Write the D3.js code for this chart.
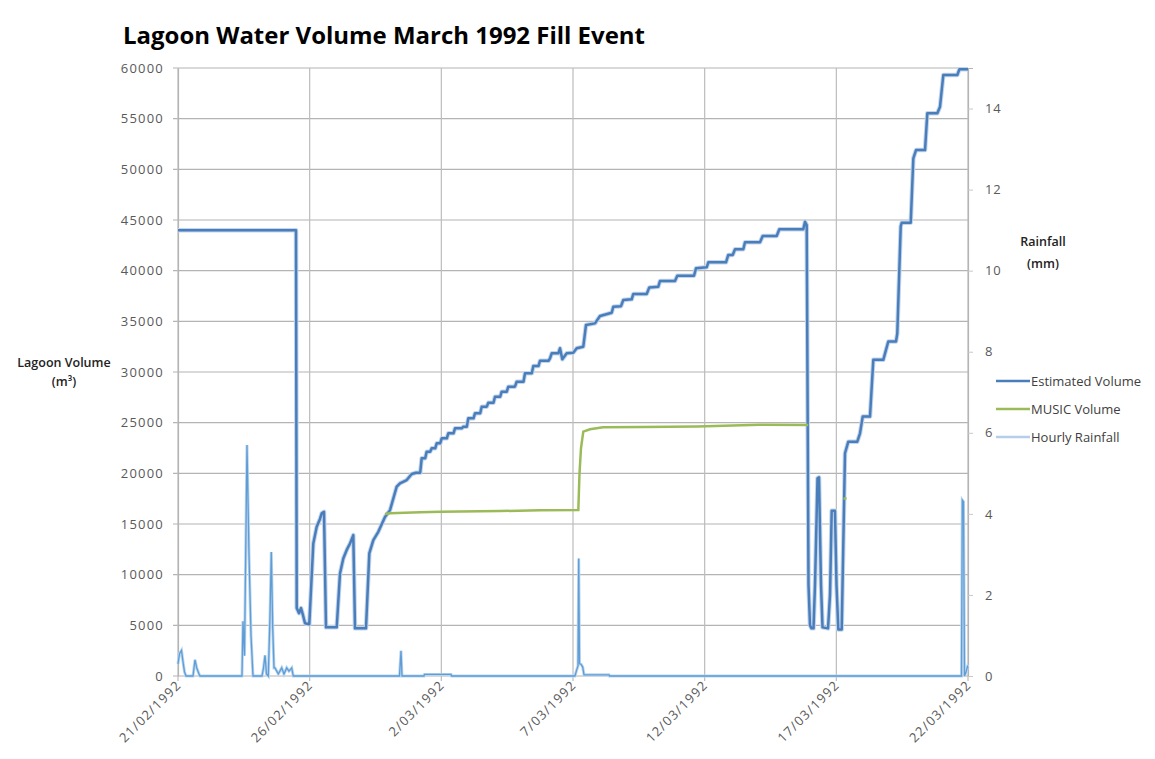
<!DOCTYPE html>
<html>
<head>
<meta charset="utf-8">
<script src="https://cdn.jsdelivr.net/npm/d3@7"></script>
<style>
  body { margin: 0; background: #ffffff; }
  text { font-family: "Open Sans", "Liberation Sans", sans-serif; }
</style>
</head>
<body>
<div id="viz-container"></div>
<script>
// days counted from 21/02/1992 00:00
let estDays = [0, 4.481, 4.508, 4.595, 4.671, 4.747, 4.823, 4.986, 5.138, 5.267, 5.392, 5.457, 5.544, 5.620,
  6.027, 6.152, 6.277, 6.418, 6.532, 6.657, 6.722, 7.139, 7.265, 7.417, 7.606, 7.861, 8.051, 8.305,
  8.430, 8.685, 8.875, 9.038, 9.198, 9.254, 9.387, 9.444, 9.577, 9.634, 9.767, 9.824, 9.957,
  10.014, 10.208, 10.265, 10.462, 10.519, 10.777, 10.834, 10.967, 11.024, 11.222, 11.278, 11.476,
  11.533, 11.727, 11.784, 11.981, 12.038, 12.236, 12.292, 12.486, 12.543, 12.794, 12.862, 13.120,
  13.177, 13.436, 13.493, 13.690, 13.747, 14.070, 14.127, 14.191,
  14.442, 14.506, 14.594, 14.761, 15.011, 15.140, 15.391, 15.494, 15.835, 16.025, 16.470, 16.530,
  16.823, 16.910, 17.229, 17.290, 17.799, 17.898, 18.239, 18.304, 18.873, 18.961, 19.595, 19.671,
  20.077, 20.138, 20.810, 20.897, 21.065, 21.152, 21.467, 21.532, 22.101, 22.204, 22.735, 22.834,
  23.745, 23.810, 23.875, 23.943, 24.000, 24.057, 24.133, 24.190, 24.285, 24.342, 24.418, 24.475,
  24.684, 24.760, 24.824, 24.949, 25.006, 25.075, 25.204, 25.329, 25.454, 25.796, 25.899, 26.001,
  26.278, 26.404, 26.783, 26.886, 26.973, 27.266, 27.315, 27.445, 27.483, 27.825, 27.924, 28.026,
  28.368, 28.455, 28.835, 28.937, 29.063, 29.595, 29.671, 30.0];
let estVolume = [44000, 44000, 6700, 6200, 6700, 6000, 5200, 5100, 13080, 14720, 15500, 16050, 16200, 4800,
  4800, 10120, 11600, 12500, 13080, 13900, 4700, 4700, 12100, 13400, 14230, 15700, 16370, 18680,
  19020, 19340, 19930, 20060, 20060, 21480, 21480, 22140, 22140, 22470, 22470, 22960, 22960,
  23460, 23460, 23950, 23950, 24440, 24440, 24600, 24600, 25430, 25430, 25920, 25920,
  26580, 26580, 26970, 26970, 27560, 27560, 28060, 28060, 28550, 28550, 29040, 29040,
  29870, 29870, 30590, 30590, 31110, 31110, 31350, 31840,
  31840, 32340, 31250, 31840, 31900, 32340, 32500, 34640, 34800, 35520, 35850, 36440,
  36500, 37100, 37170, 37700, 37700, 38350, 38420, 38980, 38980, 39500, 39500, 40230,
  40330, 40820, 40820, 41550, 41550, 42110, 42110, 42800, 42800, 43420, 43420, 44080,
  44080, 44830, 44500, 9000, 5000, 4700, 4700, 9000, 19500, 19600, 9000, 4800,
  4700, 8000, 16300, 16300, 9000, 4600, 4600, 21980, 23120, 23120, 23950, 25600,
  25600, 31200, 31200, 32190, 33010, 33010, 33800, 44380, 44730, 44730, 51090, 51900,
  51900, 55530, 55530, 56180, 59310, 59310, 59870, 59870];

// MUSIC volume, null = no value
let musicDays = [7.861, 8.051, 9.190, 9.988, 12.228, 13.747, 15.202, 15.247, 15.304, 15.391, 15.646,
  16.139, 17.658, 19.709, 22.101, 23.935, 24.5, 25.272, 25.386];
let musicVolume = [15980, 16050, 16150, 16200, 16280, 16350, 16370, 20000, 22500, 24110, 24350,
  24550, 24570, 24620, 24800, 24770, null, 17500, 17550];

// hourly rainfall (mm)
let rainDays = [0, 0.057, 0.133, 0.190, 0.247, 0.304, 0.570, 0.646, 0.710, 0.797, 0.835,
  2.430, 2.468, 2.525, 2.620, 2.696, 2.772, 2.848, 3.190, 3.247, 3.304, 3.361, 3.429,
  3.494, 3.543, 3.596, 3.646, 3.684, 3.809, 3.938, 4.025, 4.128, 4.215, 4.318, 4.378,
  8.411, 8.468, 8.506, 9.342, 9.361, 10.367, 10.386, 15.076, 15.140, 15.190, 15.217,
  15.247, 15.304, 15.368, 15.418, 16.367, 16.386, 29.753, 29.784, 29.829, 29.867,
  29.924, 29.981, 30.0];
let rainMM = [0.3, 0.55, 0.63, 0.35, 0.1, 0, 0, 0.4, 0.2, 0.05, 0,
  0, 1.35, 0.5, 5.7, 3.0, 1.0, 0, 0, 0.2, 0.51, 0.05, 0,
  1.5, 3.06, 1.2, 0.2, 0.2, 0.05, 0.2, 0.05, 0.2, 0.12, 0.2, 0,
  0, 0.62, 0, 0, 0.04, 0.04, 0, 0, 0.15, 0.25, 2.9,
  0.3, 0.29, 0.22, 0.03, 0.03, 0, 0, 4.34, 4.3, 0,
  0.1, 0.23, 0.2];

let volumeTicks = d3.range(0, 60001, 5000);
let rainTicks = [0, 2, 4, 6, 8, 10, 12, 14];
let legendNames = ["Estimated Volume", "MUSIC Volume", "Hourly Rainfall"];
let legendColors = ["#4a7ebb", "#9bbb59", "#b4cfec"];

let start = Date.UTC(1992, 1, 21);
let toDate = d => new Date(start + d * 864e5);
let dateTicks = d3.range(0, 31, 5).map(toDate);

let plotLeft = 178, plotRight = 968, plotTop = 68, plotBottom = 676;

let viz = d3.select("#viz-container")
                  .append("svg")
                      .attr("id", "viz")
                      .attr("width", 1155)
                      .attr("height", 759)
;

let x = d3.scaleUtc().domain([toDate(0), toDate(30)]).range([plotLeft, plotRight]);
let y = d3.scaleLinear().domain([0, 60000]).range([plotBottom, plotTop]);
let yRain = d3.scaleLinear().domain([0, 15]).range([plotBottom, plotTop]);

// grid
viz.append("g")
    .selectAll("line")
    .data(volumeTicks)
    .enter().append("line")
        .attr("x1", plotLeft - 5)
        .attr("x2", plotRight)
        .attr("y1", d => y(d))
        .attr("y2", d => y(d))
        .attr("stroke", "#b4b4b4")
        .attr("stroke-width", 1.2)
;
viz.append("g")
    .selectAll("line")
    .data(dateTicks)
    .enter().append("line")
        .attr("x1", d => x(d))
        .attr("x2", d => x(d))
        .attr("y1", plotTop)
        .attr("y2", plotBottom + 5)
        .attr("stroke", "#bcbcbc")
        .attr("stroke-width", 1.2)
;

// left axis
let yAxis = viz.append("g")
    .attr("transform", "translate(" + plotLeft + ",0)")
    .call(d3.axisLeft(y).tickValues(volumeTicks).tickFormat(d3.format("d")).tickSize(0).tickPadding(14))
;
yAxis.select(".domain").attr("stroke", "#b4b4b4").attr("stroke-width", 1.2);
yAxis.selectAll("text")
    .attr("font-size", 13)
    .attr("fill", "#595959")
    .attr("font-family", "Liberation Sans")
    .attr("letter-spacing", 1.2)
;

// right axis
let rAxis = viz.append("g")
    .attr("transform", "translate(" + plotRight + ",0)")
    .call(d3.axisRight(yRain).tickValues(rainTicks).tickSize(5).tickPadding(12))
;
rAxis.select(".domain").attr("stroke", "#b4b4b4").attr("stroke-width", 1.2);
rAxis.selectAll("line").attr("stroke", "#c8c8c8");
rAxis.selectAll("text")
    .attr("font-size", 13)
    .attr("fill", "#595959")
    .attr("font-family", "Liberation Sans")
    .attr("letter-spacing", 0.8)
;

// x axis labels
viz.append("g")
    .selectAll("text")
    .data(dateTicks)
    .enter().append("text")
        .attr("transform", d => "translate(" + (x(d) + 4) + "," + (plotBottom + 10) + ") rotate(-45)")
        .attr("text-anchor", "end")
        .attr("font-size", 13)
        .attr("fill", "#595959")
        .attr("font-family", "Liberation Sans")
        .attr("letter-spacing", 1.2)
        .text(d => d3.utcFormat("%-d/%m/%Y")(d))
;

// series
let estData = estDays.map((d, i) => [toDate(d), estVolume[i]]);
let musicData = musicDays.map((d, i) => [toDate(d), musicVolume[i]]);
let rainData = rainDays.map((d, i) => [toDate(d), rainMM[i]]);

let volLine = d3.line().defined(d => d[1] != null).x(d => x(d[0])).y(d => y(d[1]));
let rainLine = d3.line().x(d => x(d[0])).y(d => yRain(d[1]));

// soft halo under the volume line
viz.append("path")
    .datum(estData)
    .attr("fill", "none")
    .attr("stroke", "#c3d5ec")
    .attr("stroke-width", 4.5)
    .attr("stroke-linejoin", "round")
    .attr("d", volLine)
;
viz.append("path")
    .datum(estData)
    .attr("fill", "none")
    .attr("stroke", "#4a7ebb")
    .attr("stroke-width", 2.5)
    .attr("stroke-linejoin", "round")
    .attr("d", volLine)
;
viz.append("path")
    .datum(musicData)
    .attr("fill", "none")
    .attr("stroke", "#9bbb59")
    .attr("stroke-width", 2.5)
    .attr("d", volLine)
;
viz.append("path")
    .datum(rainData)
    .attr("fill", "none")
    .attr("stroke", "#bcd6ef")
    .attr("stroke-width", 3)
    .attr("d", rainLine)
;
viz.append("path")
    .datum(rainData)
    .attr("fill", "none")
    .attr("stroke", "#5e9dd6")
    .attr("stroke-width", 1.3)
    .attr("d", rainLine)
;

// title
viz.append("text")
    .attr("x", 123)
    .attr("y", 44)
    .attr("font-size", 24)
    .attr("font-weight", "bold")
    .attr("fill", "#000")
    .attr("textLength", 522)
    .attr("lengthAdjust", "spacingAndGlyphs")
    .text("Lagoon Water Volume March 1992 Fill Event")
;

// axis titles
let leftTitle = viz.append("text")
    .attr("text-anchor", "middle")
    .attr("font-size", 12.5)
    .attr("font-weight", 600)
    .attr("fill", "#222")
;
leftTitle.append("tspan").attr("x", 64).attr("y", 367).text("Lagoon Volume");
leftTitle.append("tspan").attr("x", 64).attr("y", 386).text("(m³)");

let rightTitle = viz.append("text")
    .attr("text-anchor", "middle")
    .attr("font-size", 12.5)
    .attr("font-weight", 600)
    .attr("fill", "#222")
;
rightTitle.append("tspan").attr("x", 1043).attr("y", 246).text("Rainfall");
rightTitle.append("tspan").attr("x", 1043).attr("y", 268).text("(mm)");

// legend
let legend = viz.append("g")
    .selectAll("g")
    .data(legendNames)
    .enter().append("g")
        .attr("transform", (d, i) => "translate(996," + (381 + i * 28) + ")")
;
legend.append("line")
    .attr("x1", 0)
    .attr("x2", 34)
    .attr("stroke", (d, i) => legendColors[i])
    .attr("stroke-width", 2.6)
;
legend.append("text")
    .attr("x", 35)
    .attr("y", 5)
    .attr("font-size", 13)
    .attr("fill", "#404040")
    .text(d => d)
;
</script>
</body>
</html>
